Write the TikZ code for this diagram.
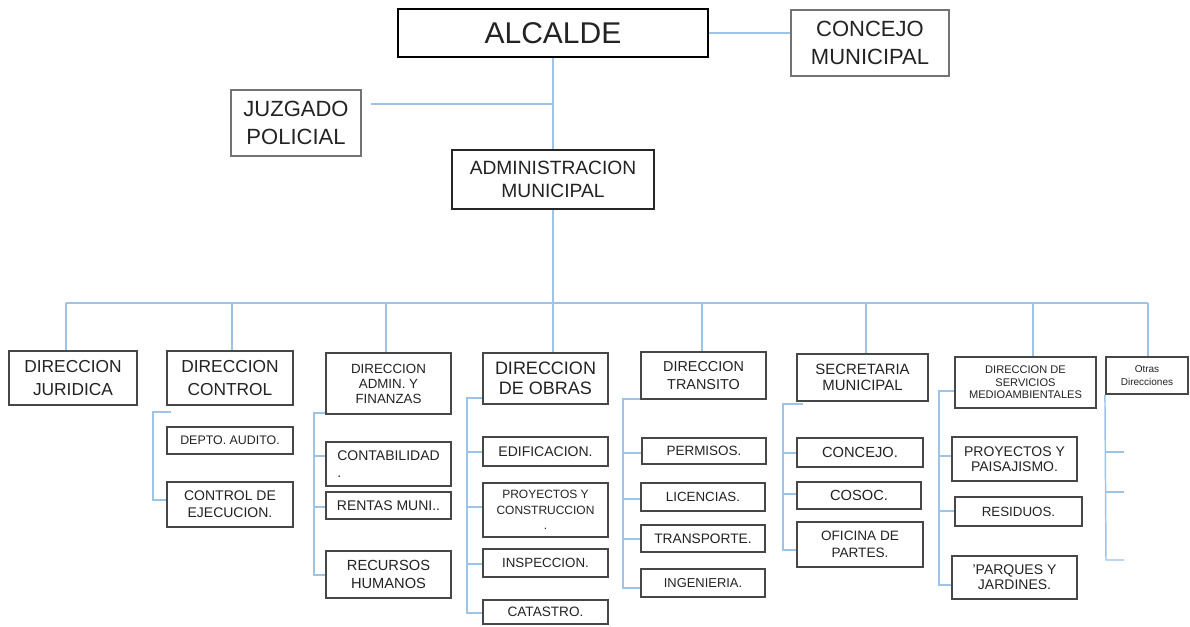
\documentclass[tikz,border=0pt]{standalone}
\usepackage{fontspec}
\setmainfont{Liberation Sans}
\usetikzlibrary{backgrounds}
\definecolor{linkblue}{RGB}{157,195,230}
\definecolor{txtgray}{RGB}{35,35,35}
\newcommand\fs[2]{\fontsize{#1pt}{#2pt}\selectfont}
\newcommand\bx[7]{%
  \pgfmathsetmacro\bxw{(#4-#2)*0.75}%
  \pgfmathsetmacro\bxh{(#5-#3)*0.75}%
  \node[#6,minimum width=\bxw pt,minimum height=\bxh pt] (#1) at ({(#2+#4)/2},{(#3+#5)/2}) {#7};}
\newcommand\tk[3]{\coordinate (tkc) at (#1,#2); \draw[conn] (tkc) -- (tkc -| #3.west);}
\begin{document}
\begin{tikzpicture}[x=0.75pt,y=-0.75pt,
  conn/.style={draw=linkblue,line width=1.1pt},
  basebox/.style={fill=white,inner sep=0pt,align=center,text=txtgray},
  bigbox/.style={basebox,draw=black,line width=2pt},
  thinbox/.style={basebox,draw=black!55,line width=0.9pt},
  midbox/.style={basebox,draw=black!85,line width=1.2pt},
  unit/.style={basebox,draw=black!72,line width=1.6pt}]
\useasboundingbox (0,0) rectangle (1190,626);
% top
\bx{alc}{398}{9}{708}{57}{bigbox,font=\fs{22.5}{26}}{ALCALDE}
\bx{conc}{791}{10}{949}{76}{thinbox,font=\fs{16.5}{21}}{CONCEJO\\MUNICIPAL}
\bx{juz}{231}{90}{361}{156}{thinbox,font=\fs{16.5}{21}}{JUZGADO\\POLICIAL}
\bx{adm}{452}{150}{654}{209}{midbox,font=\fs{14.4}{17.8}}{ADMINISTRACION\\MUNICIPAL}
% level 2
\bx{jur}{9}{351}{137}{405}{unit,font=\fs{13}{17}}{DIRECCION\\JURIDICA}
\bx{ctl}{167}{351}{293}{405}{unit,font=\fs{13}{17}}{DIRECCION\\CONTROL}
\bx{fin}{326}{353}{451}{414}{unit,font=\fs{10}{11.25}}{DIRECCION\\ADMIN. Y\\FINANZAS}
\bx{obr}{483}{353}{608}{404}{unit,font=\fs{13.5}{15}}{DIRECCION\\DE OBRAS}
\bx{tra}{641}{352}{766}{399}{unit,font=\fs{10.8}{13.25}}{DIRECCION\\TRANSITO}
\bx{sec}{797}{354}{928}{401}{unit,font=\fs{11.2}{12.5}}{SECRETARIA\\MUNICIPAL}
\bx{serv}{955}{357}{1096}{408}{unit,font=\fs{8.3}{9.4}}{DIRECCION DE\\SERVICIOS\\MEDIOAMBIENTALES}
\bx{otras}{1106}{357}{1188}{394}{unit,font=\fs{7.5}{9.75}}{Otras\\Direcciones}
% sub units
\bx{aud}{167}{427}{293}{454}{unit,font=\fs{9.3}{11}}{DEPTO. AUDITO.}
\bx{ejec}{167}{482}{293}{527}{unit,font=\fs{10.5}{12.75}}{CONTROL DE\\EJECUCION.}
\bx{cont}{326}{442}{451}{486}{unit,font=\fs{10.5}{12.75},align=left}{CONTABILIDAD\\.}
\bx{rent}{326}{492}{451}{519}{unit,font=\fs{10.5}{12.75}}{RENTAS MUNI..}
\bx{rrhh}{326}{551}{451}{598}{unit,font=\fs{11}{13.25}}{RECURSOS\\HUMANOS}
\bx{edif}{483}{437}{608}{466}{unit,font=\fs{10.5}{12.75}}{EDIFICACION.}
\bx{proy}{483}{483}{608}{537}{unit,font=\fs{9}{11.5}}{PROYECTOS Y\\CONSTRUCCION\\.}
\bx{insp}{483}{549}{608}{577}{unit,font=\fs{10}{12}}{INSPECCION.}
\bx{cat}{483}{600}{608}{624}{unit,font=\fs{10.2}{12}}{CATASTRO.}
\bx{perm}{642}{438}{766}{464}{unit,font=\fs{10.1}{12}}{PERMISOS.}
\bx{lic}{641}{483}{765}{511}{unit,font=\fs{10}{12}}{LICENCIAS.}
\bx{transp}{641}{525}{765}{552}{unit,font=\fs{10.3}{12}}{TRANSPORTE.}
\bx{ing}{641}{569}{765}{597}{unit,font=\fs{9.7}{12}}{INGENIERIA.}
\bx{conj}{797}{438}{923}{467}{unit,font=\fs{11}{13}}{CONCEJO.}
\bx{cos}{797}{482}{921}{509}{unit,font=\fs{11}{13}}{COSOC.}
\bx{ofi}{797}{522}{923}{567}{unit,font=\fs{10.2}{12.5}}{OFICINA DE\\PARTES.}
\bx{proyp}{952}{437}{1077}{481}{unit,font=\fs{10.5}{11.25}}{PROYECTOS Y\\PAISAJISMO.}
\bx{res}{955}{497}{1082}{526}{unit,font=\fs{10}{12}}{RESIDUOS.}
\bx{parq}{952}{556}{1077}{599}{unit,font=\fs{10.5}{11.25}}{'PARQUES Y\\JARDINES.}
% connectors
\begin{scope}[on background layer]
\draw[conn] (alc.south) -- (adm.north);
\draw[conn] (alc.east) -- (alc.east -| conc.west);
\coordinate (jz) at (553,104);
\draw[conn] (jz) -- ([xshift=6.75pt]jz -| juz.east);
\coordinate (busL) at (66,303);
\coordinate (busR) at (1148,303);
\draw[conn] (busL) -- (busR);
\draw[conn] (adm.south) -- (adm.south |- busL);
\foreach \xx/\nn in {66/jur,232/ctl,386/fin,553/obr,702/tra,866/sec,1033/serv,1148/otras}{
  \coordinate (dd) at (\xx,303);
  \draw[conn] (dd) -- (dd |- \nn.north);
}
% control
\coordinate (c1t) at (171,412); \coordinate (c1b) at (153,500);
\draw[conn] (c1t) -| (c1b) -- (c1b -| ejec.west);
% admin finanzas
\coordinate (c2t) at (332,413); \coordinate (c2b) at (314,575);
\draw[conn] (c2t) -| (c2b) -- (c2b -| rrhh.west);
\tk{314}{456}{cont}
\tk{314}{507}{rent}
% obras
\coordinate (c3t) at (484,398); \coordinate (c3b) at (467,613);
\draw[conn] (c3t) -| (c3b) -- (c3b -| cat.west);
\tk{467}{452}{edif}
\tk{467}{507}{proy}
\tk{467}{564}{insp}
% transito
\coordinate (c4t) at (641,399); \coordinate (c4b) at (623,588);
\draw[conn] (c4t) -| (c4b) -- (c4b -| ing.west);
\tk{623}{453}{perm}
\tk{623}{499}{lic}
\tk{623}{539}{transp}
% secretaria
\coordinate (c5t) at (803,404); \coordinate (c5b) at (783,550);
\draw[conn] (c5t) -| (c5b) -- (c5b -| ofi.west);
\tk{783}{453}{conj}
\tk{783}{494}{cos}
% servicios
\coordinate (c6t) at (956,391); \coordinate (c6b) at (939,585);
\draw[conn] (c6t) -| (c6b) -- (c6b -| parq.west);
\tk{939}{456}{proyp}
\tk{939}{511}{res}
% otras
\coordinate (c7b) at (1106,560);
\draw[conn] (otras.south west) -- (c7b) -- ++(18,0);
\coordinate (c7a) at (1106,452); \draw[conn] (c7a) -- ++(18,0);
\coordinate (c7c) at (1106,492); \draw[conn] (c7c) -- ++(18,0);
\end{scope}
\end{tikzpicture}
\end{document}
